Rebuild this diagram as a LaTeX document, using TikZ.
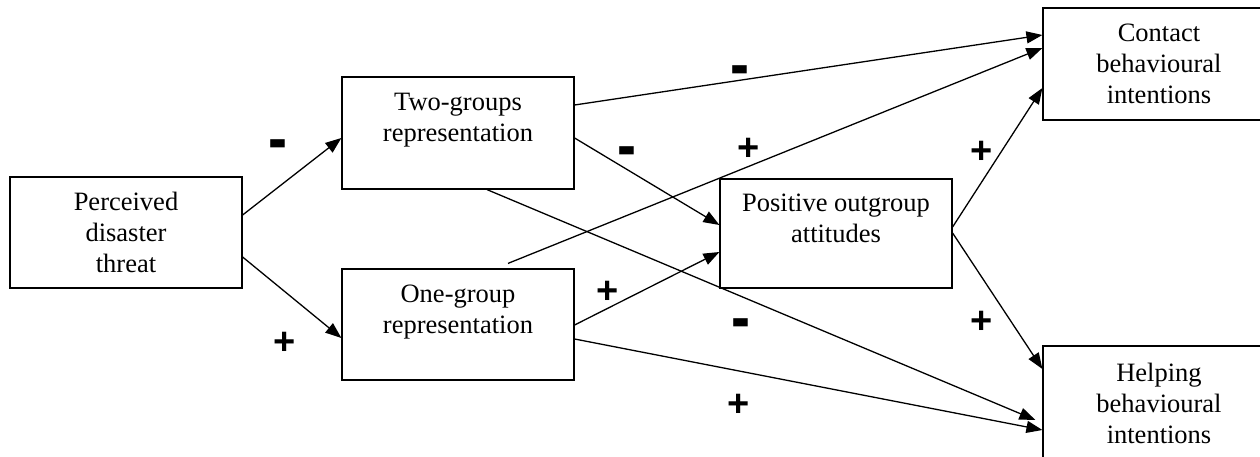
\documentclass[tikz,border=0pt]{standalone}
\usepackage{graphicx}
\usepackage{fontspec}
\setmainfont{Liberation Serif}
\newfontfamily\labelfont{Liberation Sans}
\usetikzlibrary{arrows.meta}
\tikzset{
  box/.style={draw, line width=1.2pt, minimum width=232pt, align=center, inner sep=0pt,
    font=\fontsize{26.5}{31}\selectfont},
  conn/.style={line width=1.3pt, -{Triangle[length=16pt,width=12pt]}},
  sign/.style={font=\labelfont\bfseries\fontsize{38}{38}\selectfont, inner sep=0pt},
  minussign/.style={sign, yshift=-7pt}
}
\newcommand{\bigminus}{\scalebox{1.5}[1.8]{-}}
\begin{document}
\begin{tikzpicture}[x=1pt,y=-1pt]
\useasboundingbox (0,0) rectangle (1260,457);
\node[box, minimum height=111pt] (P) at (126,232.5) {Perceived\\disaster\\threat};
\node[box, minimum height=112pt] (T) at (458,133) {Two-groups\\representation\\\mbox{}};
\node[box, minimum height=111pt] (O) at (458,324.5) {One-group\\representation\\\mbox{}};
\node[box, minimum height=109pt] (A) at (836,233.5) {Positive outgroup\\attitudes\\\mbox{}};
\node[box, minimum height=112pt] (C) at (1159,64) {Contact\\behavioural\\intentions};
\node[box, minimum height=114pt] (H) at (1159,403) {Helping\\behavioural\\intentions};

\draw[conn] ([yshift=17.5pt]P.east) -- ([yshift=-5pt]T.west);
\draw[conn] ([yshift=-24.5pt]P.east) -- ([yshift=-13.5pt]O.west);
\draw[conn] ([yshift=28pt]T.east) -- ([yshift=29pt]C.west);
\draw[conn] ([yshift=-5pt]T.east) -- ([yshift=8.5pt]A.west);
\draw[conn] ([xshift=29pt]T.south) -- ([xshift=-7pt,yshift=-17pt]H.west);
\draw[conn] ([xshift=50pt,yshift=5pt]O.north) -- ([yshift=16pt]C.west);
\draw[conn] ([yshift=-0.5pt]O.east) -- ([yshift=-18.5pt]A.west);
\draw[conn] ([yshift=-14.5pt]O.east) -- ([yshift=-27pt]H.west);
\draw[conn] ([yshift=6.5pt]A.east) -- ([yshift=-24pt]C.west);
\draw[conn] ([yshift=0.5pt]A.east) -- ([yshift=34pt]H.west);

\node[minussign] (l1) at (278,144) {\bigminus};
\node[sign] (l2) at (285,343) {+};
\node[minussign] (l3) at (740,70) {\bigminus};
\node[minussign] (l4) at (627,151) {\bigminus};
\node[minussign] (l5) at (741,323) {\bigminus};
\node[sign] (l6) at (749,149) {+};
\node[sign] (l7) at (608,292) {+};
\node[sign] (l8) at (739,405) {+};
\node[sign] (l9) at (982,152) {+};
\node[sign] (l10) at (982,322) {+};
\end{tikzpicture}
\end{document}
